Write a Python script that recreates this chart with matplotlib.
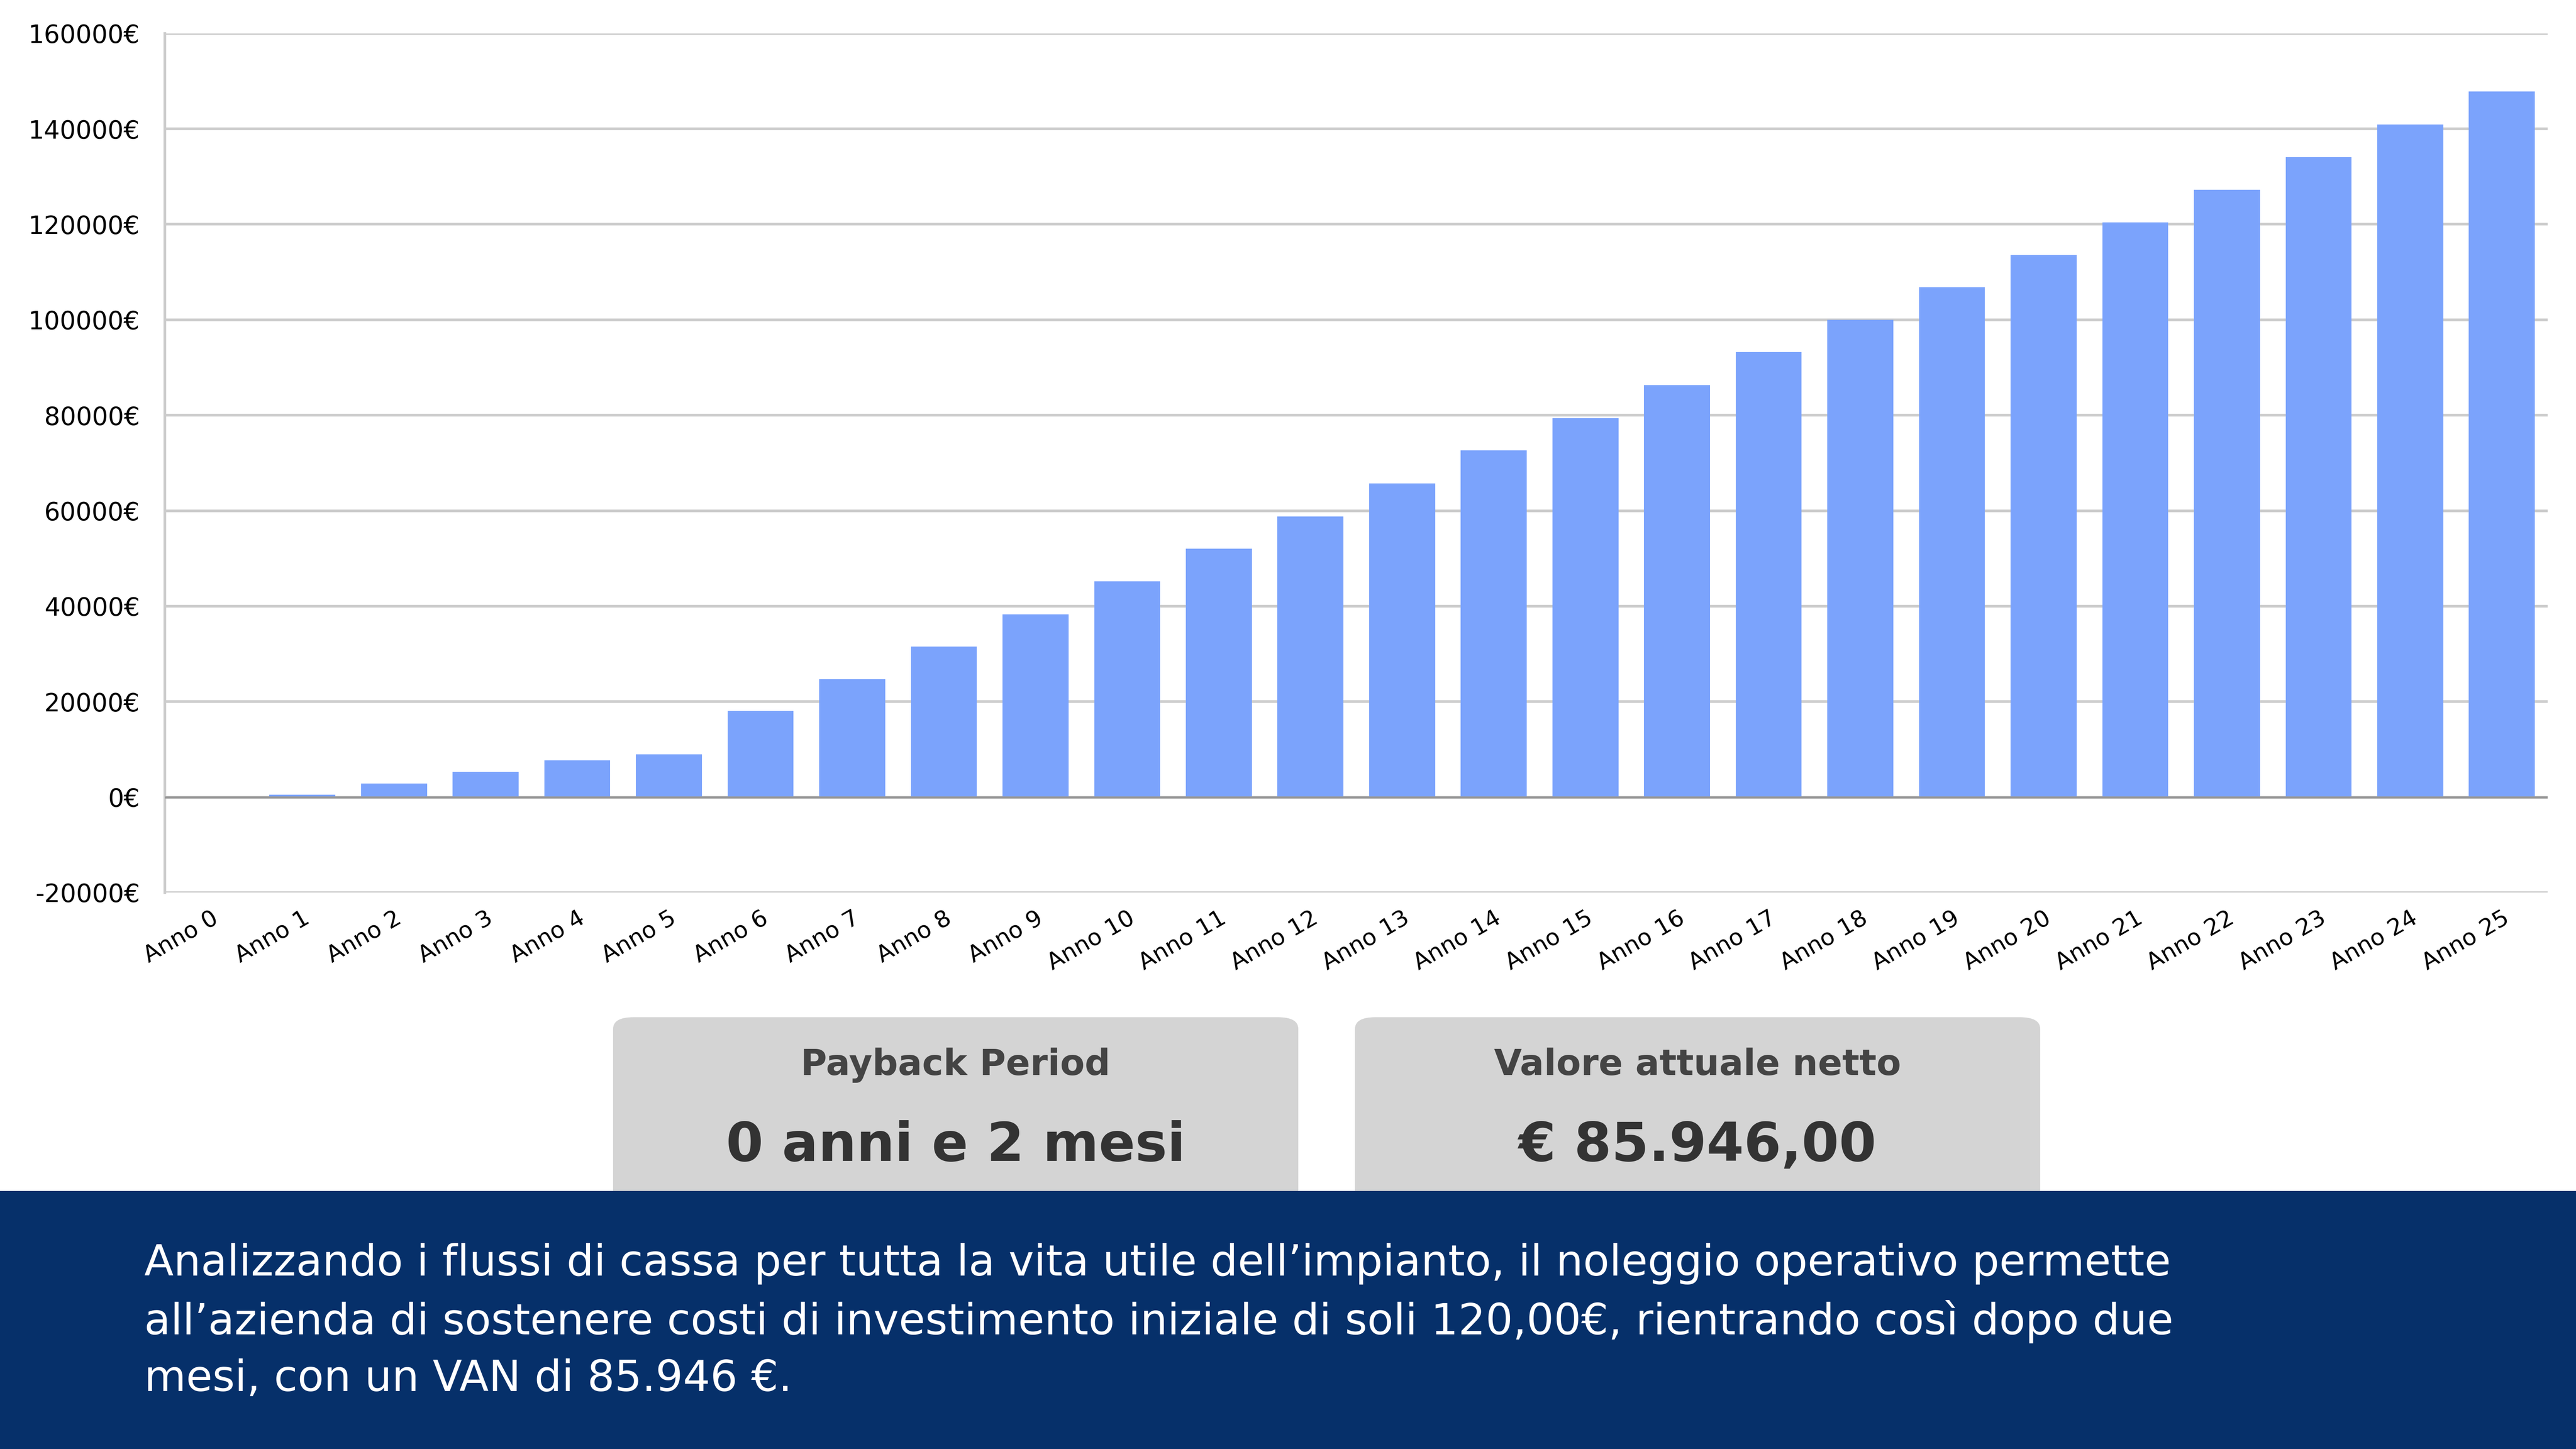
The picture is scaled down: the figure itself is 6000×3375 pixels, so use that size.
import matplotlib.pyplot as plt
from matplotlib.patches import FancyBboxPatch, Rectangle
import matplotlib.ticker as mticks

years = [f'Anno {i}' for i in range(26)]
cash = [-300, 500, 2800, 5300, 7700, 9000, 18000, 24700, 31500, 38300, 45200,
        52000, 58800, 65700, 72600, 79400, 86300, 93200, 100000, 106800,
        113600, 120400, 127200, 134100, 140900, 147800]
boxes = [('Payback Period', '0 anni e 2 mesi'),
         ('Valore attuale netto', '€ 85.946,00')]
note = ("Analizzando i flussi di cassa per tutta la vita utile dell’impianto, il noleggio operativo permette\n"
        "all’azienda di sostenere costi di investimento iniziale di soli 120,00€, rientrando così dopo due\n"
        "mesi, con un VAN di 85.946 €.")

fig = plt.figure(figsize=(20, 11.25), dpi=300)
ax = fig.add_axes([0.064, 0.384, 0.925, 0.593])
ax.bar(range(len(years)), cash, width=0.72, color='#7ba3fc', zorder=3)
ax.set_ylim(-20000, 160000)
ax.set_xlim(-0.5, 25.5)
ax.yaxis.set_major_locator(mticks.MultipleLocator(20000))
ax.yaxis.set_major_formatter(mticks.FuncFormatter(lambda v, p: f'{int(v)}€'))
ax.grid(axis='y', color='#cccccc', linewidth=1.5, zorder=0)
ax.set_xticks(range(len(years)))
ax.set_xticklabels(years, rotation=30, ha='right', rotation_mode='anchor', fontsize=13)
ax.tick_params(axis='y', labelsize=14, length=0, pad=14)
ax.tick_params(axis='x', length=0, pad=8)
for s in ['top', 'right', 'bottom']:
    ax.spines[s].set_visible(False)
ax.spines['left'].set_color('#cccccc')
ax.spines['left'].set_linewidth(1.5)
ax.axhline(0, color='#999999', linewidth=1.2, zorder=4)

for i, (title, value) in enumerate(boxes):
    x0 = 0.238 + i * 0.288
    fig.patches.append(FancyBboxPatch((x0, 0.12), 0.266, 0.178,
                                      boxstyle='round,pad=0,rounding_size=0.008',
                                      transform=fig.transFigure, facecolor='#d4d4d4',
                                      edgecolor='none'))
    fig.text(x0 + 0.133, 0.265, title, ha='center', va='center', fontsize=20,
             fontweight='bold', color='#444444')
    fig.text(x0 + 0.133, 0.209, value, ha='center', va='center', fontsize=30,
             fontweight='bold', color='#333333')

fig.patches.append(Rectangle((0, 0), 1, 0.178, transform=fig.transFigure,
                             facecolor='#06306a', edgecolor='none', zorder=5))
fig.text(0.056, 0.088, note, ha='left', va='center', fontsize=24, color='white',
         linespacing=1.45, zorder=6)

fig.savefig('out.png', dpi=300)
